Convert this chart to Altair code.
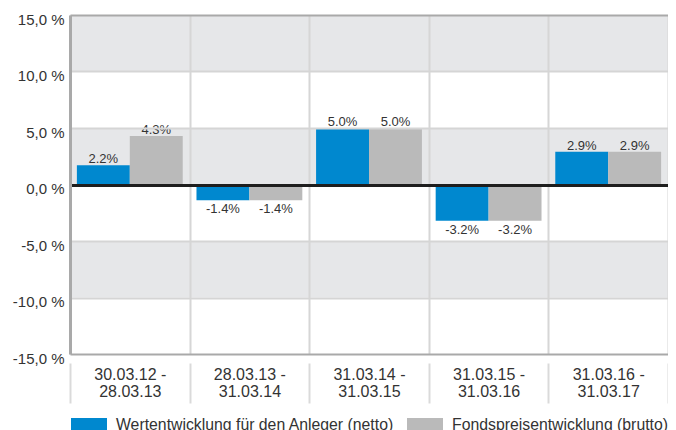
import altair as alt
import pandas as pd

# ---- data ----
periods = ["30.03.12 - 28.03.13", "28.03.13 - 31.03.14", "31.03.14 - 31.03.15",
           "31.03.15 - 31.03.16", "31.03.16 - 31.03.17"]
series_names = ["Wertentwicklung für den Anleger (netto)", "Fondspreisentwicklung (brutto)"]
netto_values = [1.7, -1.4, 5.0, -3.2, 2.9]
brutto_values = [4.3, -1.4, 5.0, -3.2, 2.9]
netto_labels = ["2.2%", "-1.4%", "5.0%", "-3.2%", "2.9%"]
brutto_labels = ["4.3%", "-1.4%", "5.0%", "-3.2%", "2.9%"]
y_ticks = [-15, -10, -5, 0, 5, 10, 15]
band_lo = [10, 0, -10]
band_hi = [15, 5, -5]
series_colors = ["#0088cf", "#bababa"]
title_text = "Wertentwicklung in 12 Monats-Zeiträumen"

FONT = "Liberation Sans"

rows = []
for p, v, l in zip(periods, netto_values, netto_labels):
    rows.append({"period": p, "series": series_names[0], "value": v, "label": l})
for p, v, l in zip(periods, brutto_values, brutto_labels):
    rows.append({"period": p, "series": series_names[1], "value": v, "label": l})
df = pd.DataFrame(rows)
bands = pd.DataFrame({"lo": band_lo, "hi": band_hi})

yscale = alt.Scale(domain=[-15, 15], nice=False, zero=False)
xscale = alt.Scale(paddingInner=0, paddingOuter=0)
xoffscale = alt.Scale(paddingInner=0, paddingOuter=0.13)

y_axis = alt.Axis(
    values=y_ticks,
    labelExpr="(datum.value < 0 ? '-' : '') + replace(format(abs(datum.value), '.1f'), '.', ',') + ' %'",
    grid=True,
    gridColor={"condition": [{"test": "datum.value == 0", "value": "#1e1e1e"},
                             {"test": "abs(datum.value) == 15", "value": "#a9a9a9"}],
               "value": "#d5d5d5"},
    gridWidth={"condition": {"test": "datum.value == 0", "value": 3}, "value": 2},
    domain=True, domainColor="#a9a9a9", domainWidth=3,
    ticks=False, labelFontSize=15, labelPadding=6, labelOffset=4,
    labelColor="#333333", labelFont=FONT, zindex=1, title=None,
)

x_axis = alt.Axis(
    title=None, domain=False, ticks=True, tickBand="extent", tickSize=40,
    tickColor="#dadada", tickWidth=2, grid=True, gridColor="#d6d6d6", gridWidth=2,
    offset=9, labelAngle=0, labelFontSize=16, labelPadding=-37, labelLineHeight=17,
    labelExpr="datum.label ? [split(datum.label, ' - ')[0] + ' -', split(datum.label, ' - ')[1]] : ''",
    labelColor="#333333", labelFont=FONT, labelBaseline="top", zindex=1,
)

band_layer = alt.Chart(bands).mark_rect(color="#e6e7e9").encode(
    y=alt.Y("lo:Q", scale=yscale, axis=y_axis),
    y2="hi:Q",
)

base = alt.Chart(df).encode(
    x=alt.X("period:N", sort=periods, scale=xscale, axis=x_axis),
    xOffset=alt.XOffset("series:N", sort=series_names, scale=xoffscale),
    y=alt.Y("value:Q", scale=yscale),
)

bars = base.mark_bar().encode(
    color=alt.Color("series:N", sort=series_names,
                    scale=alt.Scale(domain=series_names, range=series_colors),
                    legend=alt.Legend(title=None)),
)

pos_labels = base.transform_filter("datum.value >= 0").mark_text(
    baseline="alphabetic", dy=-2, fontSize=13, font=FONT, color="#333333"
).encode(text="label:N")

neg_labels = base.transform_filter("datum.value < 0").mark_text(
    baseline="top", dy=3, fontSize=13, font=FONT, color="#333333"
).encode(text="label:N")

chart = alt.layer(band_layer, bars, pos_labels, neg_labels).properties(
    width=598, height=339,
    autosize=alt.AutoSizeParams(type="none"),
    padding={"left": 62, "top": 7, "right": 0, "bottom": 80},
    title=alt.TitleParams(title_text, anchor="start", fontSize=16, fontWeight="bold",
                          font=FONT, offset=13, dx=-60, color="#222222"),
).configure_view(stroke=None).configure_legend(
    orient="none", legendX=1, legendY=392, direction="horizontal",
    symbolType="M-1,-0.4H1V0.4H-1Z", symbolSize=1296, symbolStrokeWidth=0,
    symbolOpacity=1, labelFontSize=15.8, labelFont=FONT, labelColor="#333333",
    labelOffset=9, columnPadding=12, padding=0, labelLimit=400,
)

chart.save("out.html", embed_options={"renderer": "svg", "actions": False})
